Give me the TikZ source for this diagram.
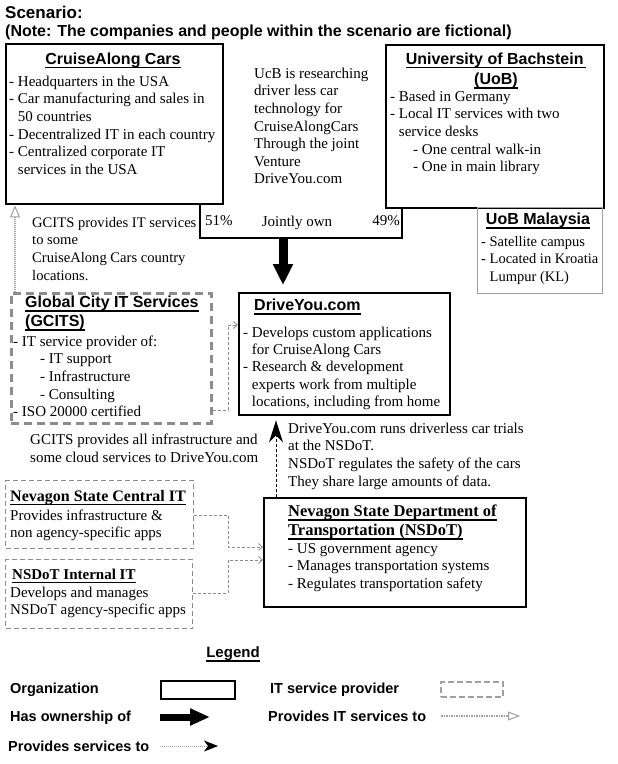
\documentclass[tikz,border=0pt]{standalone}
\usepackage{fontspec}
\setmainfont{Liberation Serif}
\setsansfont{Liberation Sans}
\usetikzlibrary{arrows.meta}
\newsavebox\hulbox
\newcommand\hul[1]{\sbox\hulbox{#1}\rlap{\rule[-4pt]{\wd\hulbox}{1.4pt}}\usebox\hulbox}
\newcommand\fl{\rule{0pt}{11pt}}
\newcommand\bodyfont{\fontsize{15}{17.6}\selectfont}
\newcommand\headfont{\sffamily\bfseries\fontsize{16}{19}\selectfont}
\newcommand\ind{\phantom{- }}
\definecolor{itgray}{HTML}{8C8C8C}
\definecolor{lgray}{HTML}{A0A0A0}
\begin{document}
\begin{tikzpicture}[x=1pt,y=-1pt,
  orgbox/.style={draw=black, line width=2.4pt, anchor=north west, inner sep=0},
  provbox/.style={draw=itgray, line width=2.6pt, dash pattern=on 8pt off 5pt, anchor=north west, inner sep=0},
  provthin/.style={draw=itgray, line width=1.1pt, dash pattern=on 5pt off 3pt, anchor=north west, inner sep=0},
  satbox/.style={draw=lgray, line width=1.4pt, anchor=north west, inner sep=0},
  txt/.style={anchor=north west, inner sep=0, align=left, font=\bodyfont},
  headnode/.style={anchor=base, inner sep=0, font=\headfont},
  headleft/.style={anchor=base west, inner sep=0, font=\headfont},
  serifhead/.style={anchor=base west, inner sep=0, font=\bfseries\fontsize{15.5}{19}\selectfont},
  lab/.style={anchor=base west, inner sep=0, font=\sffamily\bfseries\fontsize{14.5}{17}\selectfont},
  own/.style={line width=9pt, -{Triangle[width=19pt,length=21pt]}},
  svc/.style={draw=black, line width=0.8pt, dash pattern=on 3pt off 2pt, -{Stealth[width=14pt,length=22pt,inset=7pt]}},
  itline/.style={draw=itgray, line width=0.8pt, dash pattern=on 3pt off 2pt, -{Straight Barb[width=7pt,length=4pt]}},
  itsvc/.style={draw=lgray, line width=1.6pt, dash pattern=on 1pt off 1pt, -{Triangle[open,width=10pt,length=12pt,line width=1pt]}}
]
\fill[white] (0,0) rectangle (618,764);
\useasboundingbox (0,0) rectangle (618,764);

% title
\node[anchor=base west, inner sep=0, font=\sffamily\bfseries\fontsize{17}{18}\selectfont] (title1) at (5,18) {Scenario:};
\node[anchor=base west, inner sep=0, font=\sffamily\bfseries\fontsize{16}{18}\selectfont] (title2) at (5,36) {(Note: The companies and people within the scenario are fictional)};

% CruiseAlong Cars
\node[orgbox, minimum width=217pt, minimum height=160pt] (cac) at (5,43) {};
\node[headnode] (cach) at (113,64) {\hul{CruiseAlong Cars}};
\node[txt] (cact) at (9,75) {\fl- Headquarters in the USA\\
- Car manufacturing and sales in\\
\ind 50 countries\\
- Decentralized IT in each country\\
- Centralized corporate IT\\
\ind services in the USA};

% middle text
\node[txt] (mid) at (254,67) {\fl UcB is researching\\ driver less car\\ technology for\\ CruiseAlongCars\\ Through the joint\\ Venture\\ DriveYou.com};

% UoB
\node[orgbox, minimum width=218pt, minimum height=163pt] (uob) at (385,44) {};
\node[headnode] (uobh1) at (496,64) {\hul{University of Bachstein\,}};
\node[headnode] (uobh2) at (496,84.5) {\hul{(UoB)}};
\node[txt] (uobt) at (390,90) {\fl- Based in Germany\\
- Local IT services with two\\
\ind service desks\\
\hspace*{23pt}- One central walk-in\\
\hspace*{23pt}- One in main library};

% jointly own
\draw[line width=2pt] (200,203) -- (200,238) -- (402,238) -- (402,207);
\coordinate (joint) at (283,239);
\node[anchor=base west, inner sep=0, font=\bodyfont] (p51) at (205,225) {51\%};
\node[anchor=base, inner sep=0, font=\bodyfont] (jo) at (297,226) {Jointly own};
\node[anchor=base east, inner sep=0, font=\bodyfont] (p49) at (400,225) {49\%};

% UoB Malaysia
\node[satbox, minimum width=125pt, minimum height=86pt] (uobm) at (477,207) {};
\node[headnode] (uobmh) at (538,224.5) {\hul{UoB Malaysia}};
\node[txt, font=\fontsize{14.5}{17.6}\selectfont] (uobmt) at (481,235) {\fl- Satellite campus\\
- Located in Kroatia\\
\ind Lumpur (KL)};

% GCITS note
\node[txt, font=\fontsize{14.6}{17.6}\selectfont] (gnote) at (32,216) {\fl GCITS provides IT services\\ to some\\ CruiseAlong Cars country\\ locations.};

% GCITS
\node[provbox, minimum width=200pt, minimum height=130pt] (gcits) at (10,292) {};
\node[headleft] (gh1) at (25,307.5) {\hul{Global City IT Services}};
\node[headleft] (gh2) at (25,326.5) {\hul{(GCITS)}};
\node[txt] (gt) at (13,335) {\fl- IT service provider of:\\
\hspace*{27pt}- IT support\\
\hspace*{27pt}- Infrastructure\\
\hspace*{27pt}- Consulting\\
- ISO 20000 certified};

% DriveYou
\node[orgbox, minimum width=211pt, minimum height=122pt] (dy) at (238,292) {};
\node[headleft] (dyh) at (254,310.5) {\hul{DriveYou.com}};
\node[txt, font=\fontsize{15}{17.3}\selectfont] (dyt) at (243,326) {\fl- Develops custom applications\\
\ind for CruiseAlong Cars\\
- Research \& development\\
\ind experts work from multiple\\
\ind locations, including from home};

% notes
\node[txt, font=\fontsize{15}{18}\selectfont] (gnote2) at (30,433) {\fl GCITS provides all infrastructure and\\ some cloud services to DriveYou.com};
\node[txt, font=\fontsize{15}{17.7}\selectfont] (dnote) at (288,422) {\fl DriveYou.com runs driverless car trials\\ at the NSDoT.\\ NSDoT regulates the safety of the cars\\ They share large amounts of data.};

% Nevagon State Central IT
\node[provthin, minimum width=188pt, minimum height=68pt] (cit) at (5,480) {};
\node[serifhead, font=\bfseries\fontsize{16}{19}\selectfont] (cith) at (10,501) {\hul{Nevagon State Central IT}};
\node[txt, font=\fontsize{15}{17}\selectfont] (citt) at (10,509) {\fl Provides infrastructure \&\\ non agency-specific apps};

% NSDoT Internal IT
\node[provthin, minimum width=187pt, minimum height=69pt] (iit) at (5,559) {};
\node[serifhead, font=\bfseries\fontsize{15}{19}\selectfont] (iith) at (12,579) {\hul{NSDoT Internal IT}};
\node[txt, font=\fontsize{15}{17}\selectfont] (iitt) at (10,586) {\fl Develops and manages\\ NSDoT agency-specific apps};

% NSDoT
\node[orgbox, minimum width=262pt, minimum height=109pt] (nsdot) at (263,497) {};
\node[serifhead, font=\bfseries\fontsize{16.5}{19}\selectfont] (nsh1) at (288,516.5) {\hul{Nevagon State Department of}};
\node[serifhead, font=\bfseries\fontsize{16.5}{19}\selectfont] (nsh2) at (288,535.5) {\hul{Transportation (NSDoT)}};
\node[txt, font=\fontsize{15}{17.5}\selectfont] (nst) at (288,542) {\fl- US government agency\\
- Manages transportation systems\\
- Regulates transportation safety};

% connectors
\draw[own] (joint) -- ([yshift=7pt]joint |- dy.north);
\draw[itsvc] ([xshift=5pt]gcits.north west) -- ([xshift=5pt]gcits.north west |- cac.south);
\draw[itline] (gcits.east |- 0,410) -| (228,325) -- (dy.west |- 0,325);
\draw[svc] (nsdot.north -| 276,0) -- ([yshift=-4pt]dy.south -| 276,0);
\draw[itline] (cit.east |- 0,515) -| (228,547) -- (nsdot.west |- 0,547);
\draw[itline] (iit.east |- 0,593) -| (228,560) -- (nsdot.west |- 0,560);

% legend
\node[headnode, font=\sffamily\bfseries\fontsize{15}{17}\selectfont] (leg) at (233,657.5) {\hul{Legend}};
\node[lab] (l1) at (10,693) {Organization};
\node[orgbox, minimum width=74pt, minimum height=18pt] (l1b) at (160,680) {};
\node[lab] (l2) at (270,693) {IT service provider};
\node[draw=lgray, line width=1.5pt, dash pattern=on 6pt off 3pt, anchor=north west, inner sep=0, minimum width=62pt, minimum height=15pt] (l2b) at (440,681) {};
\node[lab] (l3) at (10,721) {Has ownership of};
\coordinate (l3a) at (160,717);
\coordinate (l3b) at (210,717);
\draw[line width=7pt, -{Triangle[width=16pt,length=20pt]}] (l3a) -- (l3b);
\node[lab] (l4) at (268,721) {Provides IT services to};
\coordinate (l4a) at (441,716);
\coordinate (l4b) at (520,716);
\draw[draw=lgray, line width=1.4pt, dash pattern=on 1.5pt off 1pt, -{Triangle[open,width=9pt,length=12pt,line width=1pt]}] (l4a) -- (l4b);
\node[lab] (l5) at (8,751) {Provides services to};
\coordinate (l5a) at (160,746);
\coordinate (l5b) at (218,746);
\draw[draw=lgray, line width=0.9pt, dash pattern=on 1pt off 1pt, -{Stealth[black,width=11pt,length=14pt,inset=4pt]}] (l5a) -- (l5b);
\end{tikzpicture}
\end{document}
